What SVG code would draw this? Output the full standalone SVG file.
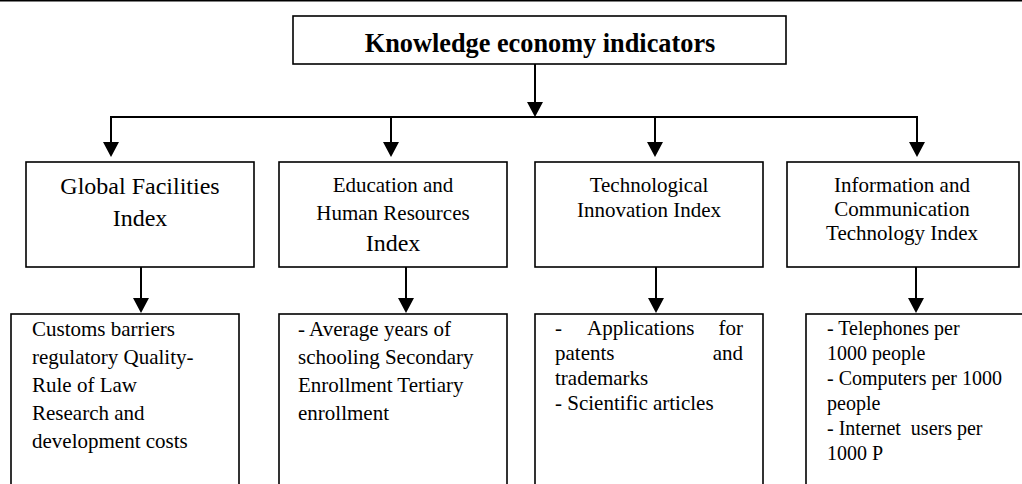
<svg xmlns="http://www.w3.org/2000/svg" width="1022" height="484" viewBox="0 0 1022 484">
<style>
text{font-family:"Liberation Serif","Times New Roman",serif;fill:#000}
.box{fill:#fff;stroke:#000;stroke-width:1.6}
.t{font-weight:bold;font-size:26.3px;text-anchor:middle}
.h{font-size:21px;text-anchor:middle}
.hb{font-size:24px;text-anchor:middle}
.b{font-size:21px;white-space:pre}
.s{font-size:20px;white-space:pre}
.c{fill:none;stroke:#000;stroke-width:2}
</style>
<defs>
<marker id="ah" markerUnits="userSpaceOnUse" markerWidth="16" markerHeight="16" viewBox="0 0 15 16" refX="10" refY="8" orient="auto">
<path d="M0,0 L15,8 L0,16 Z" fill="#000"/>
</marker>
</defs>
<rect x="0" y="0" width="1022" height="484" fill="#fff"/>
<line x1="0" y1="0.8" x2="1022" y2="0.8" stroke="#000" stroke-width="1.6"/>

<g id="connectors">
<line class="c" x1="535" y1="64" x2="535" y2="112" marker-end="url(#ah)"/>
<polyline class="c" points="111,152 111,117 917,117 917,152" marker-end="url(#ah)"/>
<line class="c" x1="391" y1="117" x2="391" y2="152" marker-end="url(#ah)"/>
<line class="c" x1="655" y1="117" x2="655" y2="152" marker-end="url(#ah)"/>
<line class="c" x1="111" y1="140" x2="111" y2="152" marker-end="url(#ah)"/>
<line class="c" x1="141" y1="267" x2="141" y2="308" marker-end="url(#ah)"/>
<line class="c" x1="406" y1="267" x2="406" y2="308" marker-end="url(#ah)"/>
<line class="c" x1="656" y1="267" x2="656" y2="308" marker-end="url(#ah)"/>
<line class="c" x1="916" y1="267" x2="916" y2="308" marker-end="url(#ah)"/>
</g>

<g id="root">
<rect class="box" x="293" y="16" width="493" height="48"/>
<text class="t" x="540" y="52">Knowledge economy indicators</text>
</g>

<g id="global-facilities">
<rect class="box" x="26" y="162" width="228" height="105"/>
<text class="hb" x="140" y="194">Global Facilities</text>
<text class="hb" x="140" y="226">Index</text>
</g>

<g id="education">
<rect class="box" x="279" y="162" width="228" height="105"/>
<text class="h" x="393" y="192">Education and</text>
<text class="h" x="393" y="220">Human Resources</text>
<text class="hb" x="393" y="251">Index</text>
</g>

<g id="technological">
<rect class="box" x="535" y="162" width="228" height="105"/>
<text class="h" x="649" y="192">Technological</text>
<text class="h" x="649" y="217">Innovation Index</text>
</g>

<g id="ict">
<rect class="box" x="787" y="162" width="232" height="105"/>
<text class="h" x="902" y="192">Information and</text>
<text class="h" x="902" y="216">Communication</text>
<text class="h" x="902" y="240">Technology Index</text>
</g>

<g id="global-facilities-items">
<rect class="box" x="11" y="314" width="228" height="180"/>
<text class="b" x="32" y="336">Customs barriers</text>
<text class="b" x="32" y="364">regulatory Quality-</text>
<text class="b" x="32" y="392">Rule of Law</text>
<text class="b" x="32" y="420">Research and</text>
<text class="b" x="32" y="448">development costs</text>
</g>

<g id="education-items">
<rect class="box" x="279" y="314" width="228" height="180"/>
<text class="b" x="298" y="336">- Average years of</text>
<text class="b" x="298" y="364">schooling Secondary</text>
<text class="b" x="298" y="392">Enrollment Tertiary</text>
<text class="b" x="298" y="420">enrollment</text>
</g>

<g id="technological-items">
<rect class="box" x="535" y="314" width="228" height="180"/>
<text class="b" x="555" y="335">-</text>
<text class="b" x="587" y="335">Applications</text>
<text class="b" x="743" y="335" text-anchor="end">for</text>
<text class="b" x="555" y="360">patents</text>
<text class="b" x="743" y="360" text-anchor="end">and</text>
<text class="b" x="555" y="385">trademarks</text>
<text class="b" x="555" y="410">- Scientific articles</text>
</g>

<g id="ict-items">
<rect class="box" x="806" y="314" width="240" height="180"/>
<text class="s" x="827" y="335">- Telephones per</text>
<text class="s" x="827" y="360">1000 people</text>
<text class="s" x="827" y="385">- Computers per 1000</text>
<text class="s" x="827" y="410">people</text>
<text class="s" x="827" y="435">- Internet  users per</text>
<text class="s" x="827" y="460">1000 P</text>
</g>
</svg>
